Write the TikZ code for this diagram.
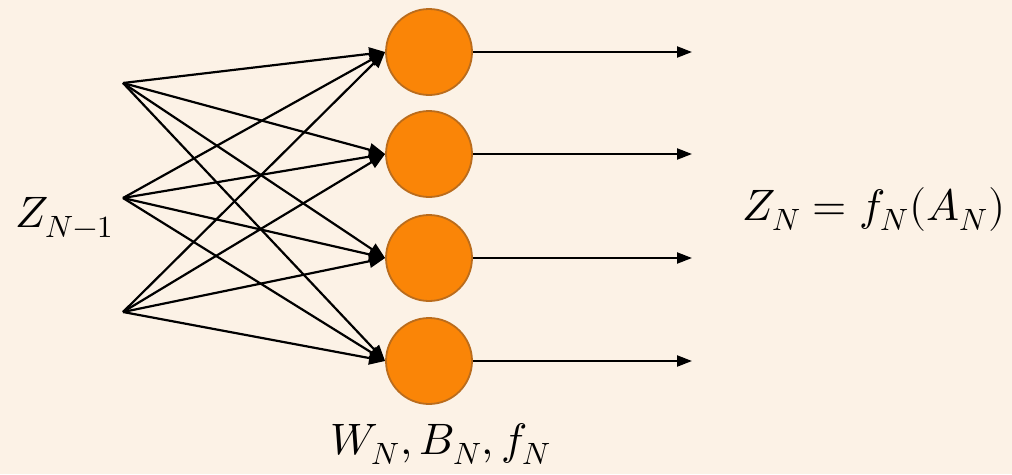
\documentclass[tikz,border=0pt]{standalone}
\usepackage{unicode-math}
\usetikzlibrary{arrows.meta}
\definecolor{c1}{HTML}{000000}
\definecolor{bgcolor}{HTML}{FCF2E6}
\definecolor{nodefill}{HTML}{FA8507}
\definecolor{nodeline}{HTML}{BA6C1C}

\begin{document}
\begin{tikzpicture}[
    x=1pt, y=-1pt,
    every node/.style={font=\fontsize{44}{48}\selectfont},
    wire/.style={-{Triangle[length=16pt, width=13pt]}, line width=2.2pt, color=c1},
    outwire/.style={-{Triangle[length=15pt, width=11pt]}, line width=2.2pt, color=c1},
    neuron/.style={circle, draw=nodeline, fill=nodefill, line width=1.8pt,
        minimum size=86pt, inner sep=0pt},
    lab/.style={inner sep=0pt, anchor=base west},
]

% ================================================================ background
\fill[bgcolor] (0,0) rectangle (1012,474);
\useasboundingbox (0,0) rectangle (1012,474);

% ================================================================ inputs
\foreach \i/\y in {1/83, 2/198, 3/312}{
    \coordinate (s\i) at (123,\y);
}
\node[lab] (zin) at (15,227) {$Z_{N-1}$};

% ================================================================ layer
\foreach \j/\y in {1/52, 2/154, 3/258, 4/361}{
    \node[neuron] (n\j) at (429,\y) {};
    \coordinate (o\j) at (692,\y);
}
\foreach \i in {1,2,3}{
    \foreach \j in {1,2,3,4}{
        \draw[wire] (s\i) -- (n\j.west);
    }
}
\node[lab] (wb) at (330,454) {$W_N, B_N, f_N$};

% ================================================================ outputs
\foreach \j in {1,2,3,4}{
    \draw[outwire] (n\j.east) -- (o\j);
}
\node[lab] (zout) at (742,220) {$Z_N = f_N(A_N)$};

\end{tikzpicture}
\end{document}
